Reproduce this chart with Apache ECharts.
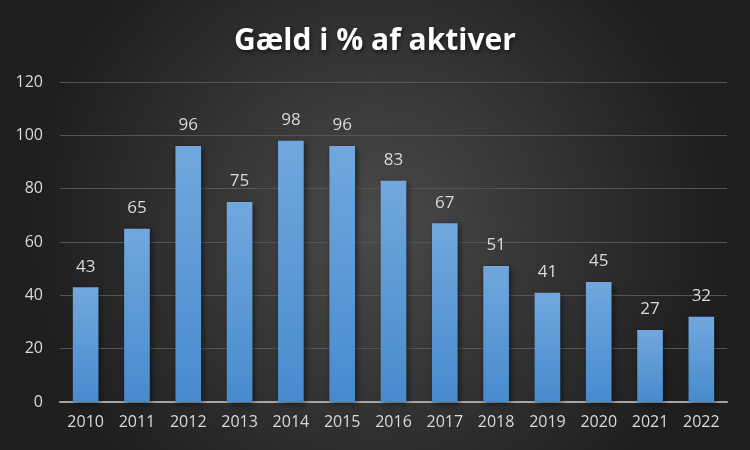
<!DOCTYPE html>
<html><head><meta charset="utf-8">
<script src="https://cdn.jsdelivr.net/npm/echarts@6/dist/echarts.min.js"></script>
<style>html,body{margin:0;padding:0;background:#333;}#c{width:750px;height:450px;}</style>
</head><body><div id="c"></div>
<script>
const titleText = 'Gæld i % af aktiver';
const categories = ['2010','2011','2012','2013','2014','2015','2016','2017','2018','2019','2020','2021','2022'];
const values = [43,65,96,75,98,96,83,67,51,41,45,27,32];
const yTicks = [0,20,40,60,80,100,120];

const chart = echarts.init(document.getElementById('c'), null, {renderer:'canvas'});
chart.setOption({
  backgroundColor: new echarts.graphic.RadialGradient(0.5, 0.5, 0.75, [
    {offset:0, color:'#4a4a4a'},
    {offset:1, color:'#1f1f1f'}
  ]),
  title: {
    text: titleText, left: 'center', top: 21,
    textStyle: {color:'#ffffff', fontSize:30, fontWeight:'bold', fontFamily:'Open Sans',
      textShadowColor:'rgba(0,0,0,0.6)', textShadowBlur:4, textShadowOffsetX:1, textShadowOffsetY:2}
  },
  grid: {left:60, right:23, top:82, bottom:48, containLabel:false},
  xAxis: {
    type:'category', data: categories,
    axisLine:{lineStyle:{color:'#a6a6a6', width:2}},
    axisTick:{show:false},
    axisLabel:{color:'#d9d9d9', fontSize:16, fontFamily:'Open Sans', margin:12}
  },
  yAxis: {
    type:'value', min:yTicks[0], max:yTicks[yTicks.length-1], interval:20,
    axisLine:{show:false}, axisTick:{show:false},
    splitLine:{lineStyle:{color:'#555555', width:1}},
    axisLabel:{color:'#d9d9d9', fontSize:16, fontFamily:'Open Sans', margin:17}
  },
  series: [{
    type:'bar', data: values, barCategoryGap:'50%',
    itemStyle:{
      color: new echarts.graphic.LinearGradient(0,0,0,1,[
        {offset:0, color:'#71a7de'},
        {offset:1, color:'#478bcd'}
      ]),
      shadowColor:'rgba(0,0,0,0.5)', shadowBlur:6, shadowOffsetX:2, shadowOffsetY:2
    },
    label:{show:true, position:'top', distance:12, color:'#d9d9d9', fontSize:17, fontFamily:'Open Sans'}
  }]
});
</script></body></html>
